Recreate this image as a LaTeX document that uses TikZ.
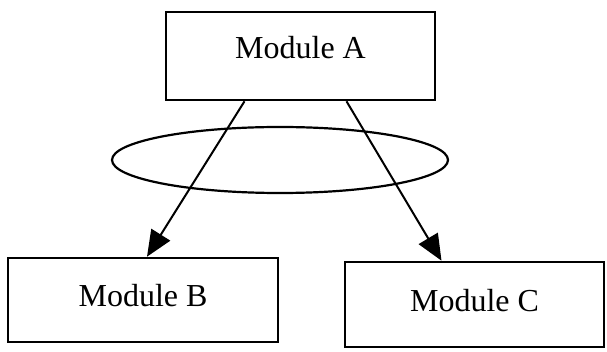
\documentclass[tikz,border=0pt]{standalone}
\usepackage{fontspec}
\setmainfont{Liberation Serif}
\usetikzlibrary{shapes.geometric,arrows.meta}

\begin{document}
\begin{tikzpicture}[x=1pt, y=-1pt,
  module/.style={rectangle, draw, line width=2.6pt, font=\fontsize{32}{36}\selectfont},
  link/.style={line width=2pt, -{Triangle[length=26pt, width=22pt]}}]

\useasboundingbox (0,0) rectangle (607,352);

\node [module, minimum width=269, minimum height=88, text depth=18pt] (A) at (300.5, 56) {Module A};
\node [module, minimum width=270, minimum height=84, text depth=10pt] (B) at (143, 300) {Module B};
\node [module, minimum width=259, minimum height=85, text depth=9pt] (C) at (474.5, 304.5) {Module C};

\node [ellipse, draw, line width=2.2pt, minimum width=336, minimum height=66] (ring) at (280, 160) {};

\draw[link] ([xshift=-56pt]A.south) -- ([xshift=4pt]B.north);
\draw[link] ([xshift=46pt]A.south) -- ([xshift=-33pt]C.north);

\end{tikzpicture}
\end{document}
